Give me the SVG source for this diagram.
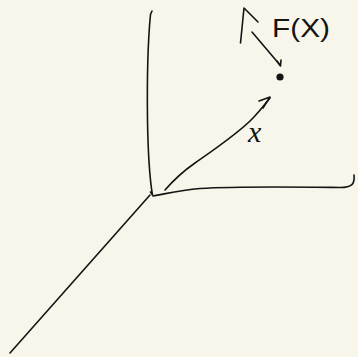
<svg xmlns="http://www.w3.org/2000/svg" width="358" height="357" viewBox="0 0 358 357">
<style>
.s{fill:none;stroke:#141414;stroke-width:1.6;stroke-linecap:round;stroke-linejoin:round}
.t{fill:#141414;font-family:"Liberation Sans",sans-serif}
</style>
<rect width="358" height="357" fill="#f8f6ea"/>
<g id="axes">
<path class="s" d="M152,11 L150.5,14.5 C148,40 147,80 147.5,120 C148,150 149,175 152.5,195 L150.5,192"/>
<path class="s" d="M153,196 C165,194 180,190 200,188.5 C240,186 300,187 340,187.5 C352,187.5 355,184 354,175"/>
<path class="s" d="M150,195 L10,353" stroke-width="1.4"/>
</g>
<g id="connectors">
<path class="s" d="M165,190 C172,182 182,172 195,163 C215,149 240,132 253,118 C260,111 265,104 270,98"/>
<path class="s" d="M259,101 L270,97 L263,108"/>
<path class="s" d="M252,32 L280,65"/>
<path class="s" d="M277,61 L280.5,66 L281,60"/>
<path class="s" d="M240.5,43 L244,8 L258,22"/>
</g>
<g id="point">
<circle cx="280" cy="77" r="3.6" fill="#141414"/>
</g>
<g id="labels">
<text class="t" x="272" y="37" font-size="25" textLength="58" lengthAdjust="spacingAndGlyphs">F(X)</text>
<text x="248" y="142" font-size="30" font-style="italic" fill="#141414" font-family="Liberation Serif, serif">x</text>
</g>
</svg>
